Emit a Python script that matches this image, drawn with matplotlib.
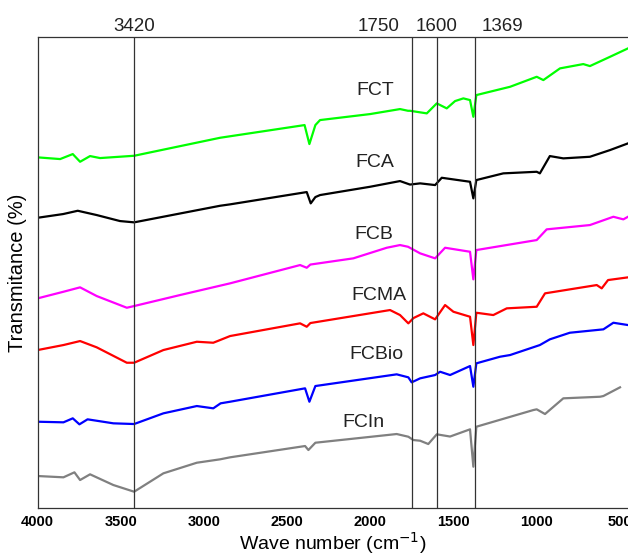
#%% Libraries:

import matplotlib.pyplot as plt
from matplotlib.transforms import blended_transform_factory


#%% FTIR data (transmittance in arbitrary units):

wn_fct = [4000, 3865, 3789, 3745, 3685, 3625, 3420, 2903, 2395, 2366, 2330, 2302, 2001,
          1821, 1773, 1761, 1660, 1600, 1540, 1490, 1440, 1400, 1380, 1362, 1159, 999,
          959, 859, 719, 679, 558, 450]
t_fct = [350.7, 349, 354, 346.3, 352, 350, 352.3, 370.3, 383, 364, 383, 388, 394,
         399, 397.3, 397.3, 394.7, 404.7, 399.7, 407, 409.7, 408, 391.3, 413, 421.3, 431.3,
         428, 439.7, 444, 442, 451.3, 459.7]

wn_fca = [4000, 3847, 3759, 3645, 3505, 3420, 2903, 2843, 2382, 2358, 2330, 2302, 2001,
          1821, 1761, 1700, 1610, 1570, 1400, 1380, 1362, 1200, 999, 980, 920, 839,
          679, 558, 450]
t_fca = [290.3, 294, 297.3, 293, 287, 285.7, 302.3, 303.7, 316, 304.7, 311, 313, 321.3,
         327, 323.5, 324.7, 323, 330.3, 326.3, 309.7, 328, 334.7, 336.3, 334.7, 352, 349.7,
         351.3, 358, 364.7]

wn_fcb = [4000, 3845, 3745, 3645, 3464, 3420, 3144, 2843, 2422, 2382, 2360, 2102, 1901,
          1821, 1773, 1700, 1610, 1550, 1400, 1380, 1362, 999, 939, 679, 538, 478, 450]
t_fcb = [209.7, 216.3, 220.7, 212, 200.3, 202, 213, 224.7, 243, 240.3, 243.5, 249.7, 260.3,
         263, 261.3, 254.7, 249.7, 260.3, 256.3, 228.7, 258, 268, 278.7, 283, 291.3, 288.7, 291.3]

wn_fcma = [4000, 3845, 3745, 3645, 3464, 3420, 3244, 3043, 2944, 2903, 2843, 2422, 2382,
           2360, 1881, 1821, 1771, 1740, 1681, 1610, 1550, 1500, 1400, 1380, 1362, 1260,
           1179, 999, 949, 638, 608, 570, 450]
t_fcma = [158, 163, 167, 160.7, 145.3, 145.3, 158, 166.3, 165.3, 168, 172, 184.7, 181.3,
          185, 198, 193, 184.7, 190, 194.7, 188.7, 203, 196.3, 191.3, 163, 195.3, 193,
          199.7, 201.3, 214.7, 223, 219.7, 228, 230.7]

wn_fcbio = [4000, 3845, 3789, 3749, 3700, 3545, 3420, 3244, 3043, 2944, 2900, 2843, 2392,
            2366, 2330, 1841, 1771, 1751, 1700, 1610, 1580, 1520, 1400, 1380, 1362, 1220,
            1159, 980, 920, 800, 598, 538, 450]
t_fcbio = [86.3, 85.7, 89.7, 83.7, 88.7, 84.7, 84, 94.7, 102, 99.7, 104.7, 106.3, 119.7,
           106.3, 122, 133.7, 130.7, 125.7, 129.7, 133, 136.3, 133, 142, 121.3, 144.7, 151.3,
           153, 163, 168.7, 175.3, 178.7, 185.3, 183]

wn_fcin = [4000, 3845, 3779, 3745, 3685, 3545, 3420, 3244, 3043, 2903, 2843, 2392, 2372,
           2330, 1841, 1771, 1741, 1700, 1651, 1600, 1520, 1400, 1380, 1362, 1019, 999,
           949, 839, 618, 598, 498]
t_fcin = [32, 30.7, 35.7, 28, 33.7, 23, 16.3, 34.7, 45.3, 48.7, 50.7, 62, 58,
          65.3, 74, 71.3, 68, 67.3, 64, 73.7, 71.5, 78.7, 41.3, 81.3, 98, 98.7,
          94, 109.7, 111.3, 112, 120.7]

names = ["FCT", "FCA", "FCB", "FCMA", "FCBio", "FCIn"]
label_x = [1971, 1971, 1977, 1947, 1965, 2043]
label_y = [418, 346, 274, 213, 154, 86]

peaks = [3420, 1750, 1600, 1369]
peak_label_x = [3420, 1953, 1600, 1208]


#%% Plot:

plt.rcParams['font.family'] = ['Liberation Sans', 'DejaVu Sans']

fig = plt.figure(figsize=(6.28, 5.56), dpi=100)
ax = fig.add_axes([0.06, 0.0863, 0.94, 0.847])

ax.plot(wn_fct, t_fct, color="#00ff00", lw=1.6)
ax.plot(wn_fca, t_fca, color="black", lw=1.6)
ax.plot(wn_fcb, t_fcb, color="#ff00ff", lw=1.6)
ax.plot(wn_fcma, t_fcma, color="#ff0000", lw=1.6)
ax.plot(wn_fcbio, t_fcbio, color="#0000ff", lw=1.6)
ax.plot(wn_fcin, t_fcin, color="#808080", lw=1.6)

for name, x, y in zip(names, label_x, label_y):
    ax.text(x, y, name, fontsize=14, ha="center", va="center", color="#222222")

trans = blended_transform_factory(ax.transData, ax.transAxes)
for p, lx in zip(peaks, peak_label_x):
    ax.axvline(p, color="#333333", lw=0.9)
    ax.text(lx, 1.005, str(p), transform=trans, fontsize=13.5, ha="center", va="bottom",
            color="#222222")

ax.set_xlim(4000, 450)
ax.set_ylim(0, 471)

ax.set_xticks(range(4000, 0, -500))
ax.set_xticklabels([str(v) for v in range(4000, 0, -500)], fontsize=10.5, fontweight="bold")
ax.set_yticks([])
ax.tick_params(axis="x", length=0, pad=5)

ax.spines["right"].set_visible(False)
for s in ["left", "top", "bottom"]:
    ax.spines[s].set_linewidth(0.9)
    ax.spines[s].set_color("#333333")

ax.set_xlabel("Wave number (cm$^{-1}$)", fontsize=14, labelpad=1)
ax.set_ylabel("Transmitance (%)", fontsize=14.5, labelpad=8)

plt.savefig("out.png", dpi=100)
